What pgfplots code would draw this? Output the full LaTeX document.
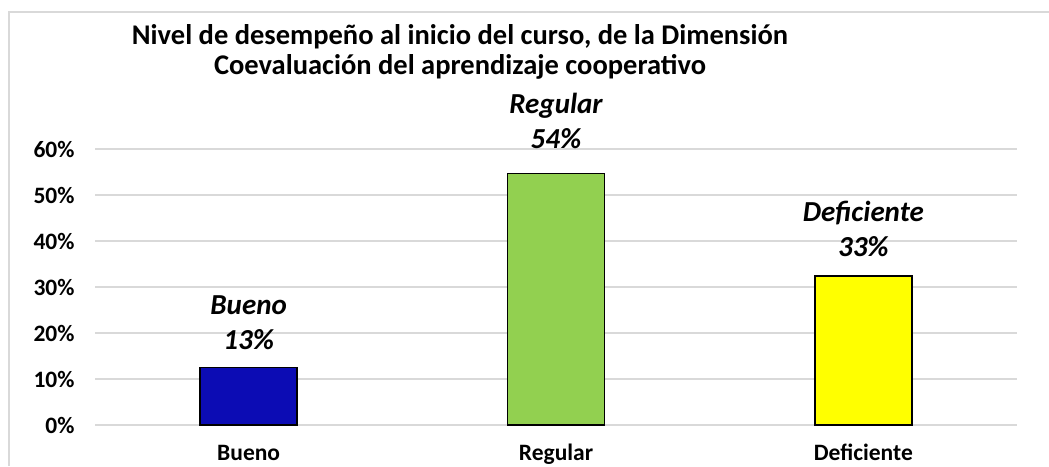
\documentclass[border=0pt]{standalone}
\usepackage{fontspec}
\setmainfont{Carlito}
\usepackage{pgfplots}
\pgfplotsset{compat=1.18}
\definecolor{bblue}{RGB}{12,12,180}
\definecolor{bgreen}{RGB}{146,208,80}
\definecolor{byellow}{RGB}{255,255,0}
\definecolor{gridc}{RGB}{217,217,217}
\begin{document}
\begin{tikzpicture}
\useasboundingbox (0,0) rectangle (1049pt,466pt);
\fill[white] (0,0) rectangle (1049pt,466pt);
\draw[gridc, line width=1.5pt] (9pt,0) -- (9pt,454pt) -- (1049pt,454pt);
\node[font=\bfseries\fontsize{28.5}{30}\selectfont, anchor=base] at (460pt,421pt) {Nivel de desempeño al inicio del curso, de la Dimensión};
\node[font=\bfseries\fontsize{28.5}{30}\selectfont, anchor=base] at (460pt,391pt) {Coevaluación del aprendizaje cooperativo};
\begin{axis}[
 at={(95pt,41pt)}, anchor=south west,
 scale only axis, width=922pt, height=276pt,
 xmin=-0.5, xmax=2.5, ymin=0, ymax=60,
 axis line style={draw=none},
 ymajorgrids, grid style={gridc, line width=1.5pt},
 major tick length=0pt,
 ytick={0,10,20,30,40,50,60},
 yticklabels={0\%,10\%,20\%,30\%,40\%,50\%,60\%},
 xtick={0,1,2}, xticklabels={Bueno,Regular,Deficiente},
 tick label style={font=\bfseries\fontsize{23.5}{27}\selectfont},
 yticklabel style={xshift=-17pt},
 xticklabel style={anchor=base, yshift=-35pt},
 ybar, bar width=97pt, bar shift=0pt,
 clip=false,
 every node near coord/.append style={align=center, anchor=south, inner sep=0pt,
   font=\bfseries\itshape\fontsize{29}{35}\selectfont, text=black},
]
\addplot[fill=bblue, draw=black, line width=1.5pt,
  nodes near coords={Bueno\\13\%},
  every node near coord/.append style={yshift=17pt}] coordinates {(0,12.5)};
\addplot[fill=bgreen, draw=black, line width=1.5pt,
  nodes near coords={Regular\\54\%},
  every node near coord/.append style={yshift=24pt}] coordinates {(1,54.7)};
\addplot[fill=byellow, draw=black, line width=1.5pt,
  nodes near coords={Deficiente\\33\%},
  every node near coord/.append style={yshift=18pt}] coordinates {(2,32.4)};
\end{axis}
\end{tikzpicture}
\end{document}
